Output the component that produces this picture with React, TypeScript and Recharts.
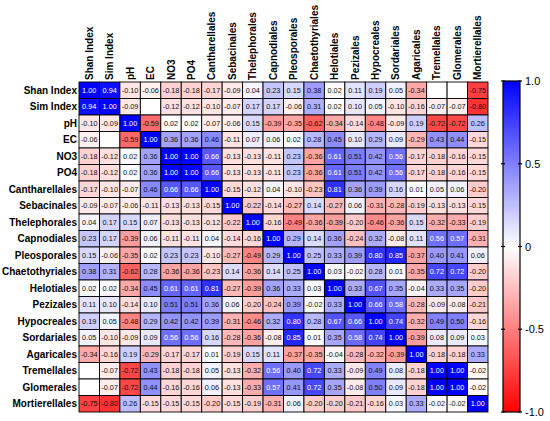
import React from "react";
import { ScatterChart, Scatter, XAxis, YAxis } from "recharts";

const labels = [
  "Shan Index", "Sim Index", "pH", "EC", "NO3", "PO4", "Cantharellales", "Sebacinales",
  "Thelephorales", "Capnodiales", "Pleosporales", "Chaetothyriales", "Helotiales", "Pezizales",
  "Hypocreales", "Sordariales", "Agaricales", "Tremellales", "Glomerales", "Mortierellales",
];

type V = number | null;
const shanIndex: V[] = [1.0, 0.94, -0.1, -0.06, -0.18, -0.18, -0.17, -0.09, 0.04, 0.23, 0.15, 0.38, 0.02, 0.11, 0.19, 0.05, -0.34, null, null, -0.75];
const simIndex: V[] = [0.94, 1.0, -0.09, null, -0.12, -0.12, -0.1, -0.07, 0.17, 0.17, -0.06, 0.31, 0.02, 0.1, 0.05, -0.1, -0.16, -0.07, -0.07, -0.8];
const pH: V[] = [-0.1, -0.09, 1.0, -0.59, 0.02, 0.02, -0.07, -0.06, 0.15, -0.39, -0.35, -0.62, -0.34, -0.14, -0.48, -0.09, 0.19, -0.72, -0.72, 0.26];
const ec: V[] = [-0.06, null, -0.59, 1.0, 0.36, 0.36, 0.46, -0.11, 0.07, 0.06, 0.02, 0.28, 0.45, 0.1, 0.29, 0.09, -0.29, 0.43, 0.44, -0.15];
const no3: V[] = [-0.18, -0.12, 0.02, 0.36, 1.0, 1.0, 0.66, -0.13, -0.13, -0.11, 0.23, -0.36, 0.61, 0.51, 0.42, 0.56, -0.17, -0.18, -0.16, -0.15];
const po4: V[] = [-0.18, -0.12, 0.02, 0.36, 1.0, 1.0, 0.66, -0.13, -0.13, -0.11, 0.23, -0.36, 0.61, 0.51, 0.42, 0.56, -0.17, -0.18, -0.16, -0.15];
const cantharellales: V[] = [-0.17, -0.1, -0.07, 0.46, 0.66, 0.66, 1.0, -0.15, -0.12, 0.04, -0.1, -0.23, 0.81, 0.36, 0.39, 0.16, 0.01, 0.05, 0.06, -0.2];
const sebacinales: V[] = [-0.09, -0.07, -0.06, -0.11, -0.13, -0.13, -0.15, 1.0, -0.22, -0.14, -0.27, 0.14, -0.27, 0.06, -0.31, -0.28, -0.19, -0.13, -0.13, -0.15];
const thelephorales: V[] = [0.04, 0.17, 0.15, 0.07, -0.13, -0.13, -0.12, -0.22, 1.0, -0.16, -0.49, -0.36, -0.39, -0.2, -0.46, -0.36, 0.15, -0.32, -0.33, -0.19];
const capnodiales: V[] = [0.23, 0.17, -0.39, 0.06, -0.11, -0.11, 0.04, -0.14, -0.16, 1.0, 0.29, 0.14, 0.36, -0.24, 0.32, -0.08, 0.11, 0.56, 0.57, -0.31];
const pleosporales: V[] = [0.15, -0.06, -0.35, 0.02, 0.23, 0.23, -0.1, -0.27, -0.49, 0.29, 1.0, 0.25, 0.33, 0.39, 0.8, 0.85, -0.37, 0.4, 0.41, 0.06];
const chaetothyriales: V[] = [0.38, 0.31, -0.62, 0.28, -0.36, -0.36, -0.23, 0.14, -0.36, 0.14, 0.25, 1.0, 0.03, -0.02, 0.28, 0.01, -0.35, 0.72, 0.72, -0.2];
const helotiales: V[] = [0.02, 0.02, -0.34, 0.45, 0.61, 0.61, 0.81, -0.27, -0.39, 0.36, 0.33, 0.03, 1.0, 0.33, 0.67, 0.35, -0.04, 0.33, 0.35, -0.2];
const pezizales: V[] = [0.11, 0.1, -0.14, 0.1, 0.51, 0.51, 0.36, 0.06, -0.2, -0.24, 0.39, -0.02, 0.33, 1.0, 0.66, 0.58, -0.28, -0.09, -0.08, -0.21];
const hypocreales: V[] = [0.19, 0.05, -0.48, 0.29, 0.42, 0.42, 0.39, -0.31, -0.46, 0.32, 0.8, 0.28, 0.67, 0.66, 1.0, 0.74, -0.32, 0.49, 0.5, -0.16];
const sordariales: V[] = [0.05, -0.1, -0.09, 0.09, 0.56, 0.56, 0.16, -0.28, -0.36, -0.08, 0.85, 0.01, 0.35, 0.58, 0.74, 1.0, -0.39, 0.08, 0.09, 0.03];
const agaricales: V[] = [-0.34, -0.16, 0.19, -0.29, -0.17, -0.17, 0.01, -0.19, 0.15, 0.11, -0.37, -0.35, -0.04, -0.28, -0.32, -0.39, 1.0, -0.18, -0.18, 0.33];
const tremellales: V[] = [null, -0.07, -0.72, 0.43, -0.18, -0.18, 0.05, -0.13, -0.32, 0.56, 0.4, 0.72, 0.33, -0.09, 0.49, 0.08, -0.18, 1.0, 1.0, -0.02];
const glomerales: V[] = [null, -0.07, -0.72, 0.44, -0.16, -0.16, 0.06, -0.13, -0.33, 0.57, 0.41, 0.72, 0.35, -0.08, 0.5, 0.09, -0.18, 1.0, 1.0, -0.02];
const mortierellales: V[] = [-0.75, -0.8, 0.26, -0.15, -0.15, -0.15, -0.2, -0.15, -0.19, -0.31, 0.06, -0.2, -0.2, -0.21, -0.16, 0.03, 0.33, -0.02, -0.02, 1.0];

const matrix: V[][] = [
  shanIndex, simIndex, pH, ec, no3, po4, cantharellales, sebacinales, thelephorales, capnodiales,
  pleosporales, chaetothyriales, helotiales, pezizales, hypocreales, sordariales, agaricales,
  tremellales, glomerales, mortierellales,
];

const colorbarTicks = [1.0, 0.5, 0, -0.5, -1.0];
const colorbarLabels = ["1.0", "0.5", "0", "-0.5", "-1.0"];

const N = labels.length;
const W = 550;
const H = 421;
const M = { top: 4, right: 62, bottom: 9, left: 4 };
const YAW = 75;
const XAH = 78;
const CW = (W - M.left - M.right - YAW) / N;
const CH = (H - M.top - M.bottom - XAH) / N;
const FONT = "'Liberation Sans', Arial, sans-serif";

const data = matrix.flatMap((row, r) =>
  row.map((v, c) => ({ x: c + 0.5, y: r + 0.5, v }))
);
const ticks = labels.map((_, i) => i + 0.5);

function color(v: number | null): string {
  if (v === null) return "#ffffff";
  if (v >= 0) {
    const k = Math.round(255 * (1 - v));
    return `rgb(${k},${k},255)`;
  }
  const k = Math.round(255 * (1 + v));
  return `rgb(255,${k},${k})`;
}

const CellShape = (props: any) => {
  const { cx, cy, payload } = props;
  const v: number | null = payload.v;
  const txt = v === null ? "" : v.toFixed(2);
  const white = v !== null && v > 0.55;
  return (
    <g>
      <rect x={cx - CW / 2} y={cy - CH / 2} width={CW} height={CH} fill={color(v)} stroke="#000" strokeWidth={0.9} />
      {txt && (
        <text x={cx} y={cy} textAnchor="middle" dominantBaseline="central" fontSize={7.3} fontFamily={FONT} fill={white ? "#ffffff" : "#111"}>
          {txt}
        </text>
      )}
    </g>
  );
};

const XTick = (props: any) => {
  const { x, y, payload } = props;
  const label = labels[Math.floor(payload.value)];
  return (
    <text x={x} y={y} transform={`rotate(-90, ${x}, ${y})`} textAnchor="start" dominantBaseline="central" fontSize={10} fontWeight="bold" fontFamily={FONT} fill="#000">
      {label}
    </text>
  );
};

const YTick = (props: any) => {
  const { x, y, payload } = props;
  const label = labels[Math.floor(payload.value)];
  return (
    <text x={x} y={y} textAnchor="end" dominantBaseline="central" fontSize={10} fontWeight="bold" fontFamily={FONT} fill="#000">
      {label}
    </text>
  );
};

const CB = { x: 503, y: 81, w: 17, h: 331 };

const ColorBar = () => {
  const valToY = (v: number) => CB.y + ((1 - v) / 2) * CB.h;
  return (
    <svg width={W} height={H} style={{ position: "absolute", left: 0, top: 0, pointerEvents: "none" }}>
      <defs>
        <linearGradient id="cbgrad" x1="0" y1="0" x2="0" y2="1">
          <stop offset="0%" stopColor="#0000ff" />
          <stop offset="50%" stopColor="#ffffff" />
          <stop offset="100%" stopColor="#ff0000" />
        </linearGradient>
      </defs>
      <rect x={CB.x} y={CB.y} width={CB.w} height={CB.h} fill="url(#cbgrad)" stroke="#000" strokeWidth={1.2} />
      {colorbarTicks.map((t, i) => {
        const y = valToY(t);
        return (
          <g key={i}>
            <line x1={CB.x - 2} x2={CB.x + 2} y1={y} y2={y} stroke="#000" strokeWidth={1.2} />
            <line x1={CB.x + CB.w - 2} x2={CB.x + CB.w + 2} y1={y} y2={y} stroke="#000" strokeWidth={1.2} />
            <text x={CB.x + CB.w + 5} y={y} dominantBaseline="central" fontSize={11} fontFamily={FONT} fill="#000">
              {colorbarLabels[i]}
            </text>
          </g>
        );
      })}
    </svg>
  );
};

export default function App() {
  return (
    <div style={{ position: "absolute", left: 0, top: 0, width: W, height: H, background: "#fff" }}>
      <ScatterChart width={W} height={H} margin={M}>
        <XAxis
          type="number"
          dataKey="x"
          orientation="top"
          domain={[0, N]}
          ticks={ticks}
          interval={0}
          height={XAH}
          axisLine={false}
          tickLine={false}
          tickSize={0}
          tickMargin={2}
          tick={<XTick />}
        />
        <YAxis
          type="number"
          dataKey="y"
          domain={[0, N]}
          reversed
          ticks={ticks}
          interval={0}
          width={YAW}
          axisLine={false}
          tickLine={false}
          tickSize={0}
          tickMargin={2}
          tick={<YTick />}
        />
        <Scatter data={data} shape={<CellShape />} isAnimationActive={false} />
      </ScatterChart>
      <ColorBar />
    </div>
  );
}
